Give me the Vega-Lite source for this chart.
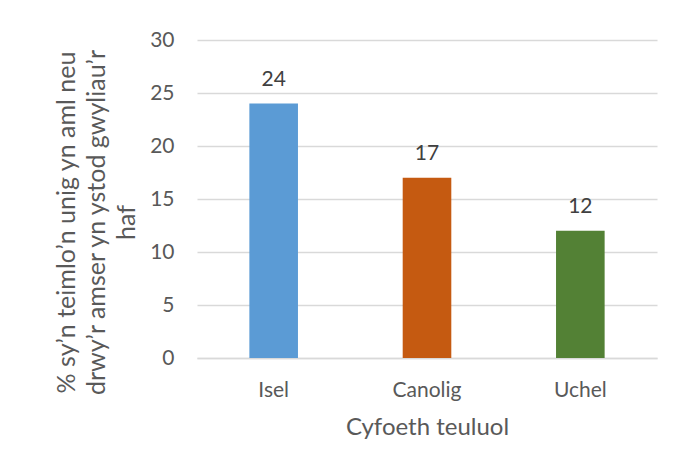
{
  "$schema": "https://vega.github.io/schema/vega-lite/v6.json",
  "autosize": "none",
  "width": 460,
  "height": 318,
  "padding": {"left": 197, "top": 40, "right": 18, "bottom": 114},
  "background": "white",
  "data": {
    "values": [
      {"group": "Isel", "value": 24},
      {"group": "Canolig", "value": 17},
      {"group": "Uchel", "value": 12}
    ]
  },
  "encoding": {
    "x": {
      "field": "group",
      "type": "nominal",
      "sort": ["Isel", "Canolig", "Uchel"],
      "scale": {"paddingInner": 0.683, "paddingOuter": 0.3415},
      "axis": {
        "title": "Cyfoeth teuluol",
        "labelAngle": 0,
        "ticks": false,
        "tickSize": 0,
        "labelPadding": 21,
        "labelFont": "Lato",
        "labelFontSize": 21,
        "labelColor": "#595959",
        "titleFont": "Lato",
        "titleFontSize": 24,
        "titleFontWeight": "normal",
        "titleColor": "#595959",
        "titlePadding": 15,
        "domainColor": "#D9D9D9",
        "domainWidth": 1.5
      }
    },
    "y": {
      "field": "value",
      "type": "quantitative",
      "scale": {"domain": [0, 30]},
      "axis": {
        "values": [0, 5, 10, 15, 20, 25, 30],
        "title": ["% sy’n teimlo’n unig yn aml neu", "drwy’r amser yn ystod gwyliau’r", "haf"],
        "titleLineHeight": 30,
        "titleY": 182,
        "titlePadding": 10,
        "titleFont": "Lato",
        "titleFontSize": 25,
        "titleFontWeight": "normal",
        "titleColor": "#595959",
        "labelFont": "Lato",
        "labelFontSize": 21,
        "labelColor": "#595959",
        "labelPadding": 23,
        "ticks": false,
        "tickSize": 0,
        "domain": false,
        "gridColor": "#D9D9D9",
        "gridWidth": 1.5
      }
    }
  },
  "layer": [
    {
      "mark": {"type": "bar"},
      "encoding": {
        "color": {
          "field": "group",
          "type": "nominal",
          "scale": {"domain": ["Isel", "Canolig", "Uchel"], "range": ["#5B9BD5", "#C55A11", "#538135"]},
          "legend": null
        }
      }
    },
    {
      "mark": {"type": "text", "baseline": "alphabetic", "dy": -18, "font": "Lato", "fontSize": 21, "color": "#404040"},
      "encoding": {"text": {"field": "value", "type": "quantitative"}}
    }
  ],
  "config": {"view": {"stroke": null}}
}
